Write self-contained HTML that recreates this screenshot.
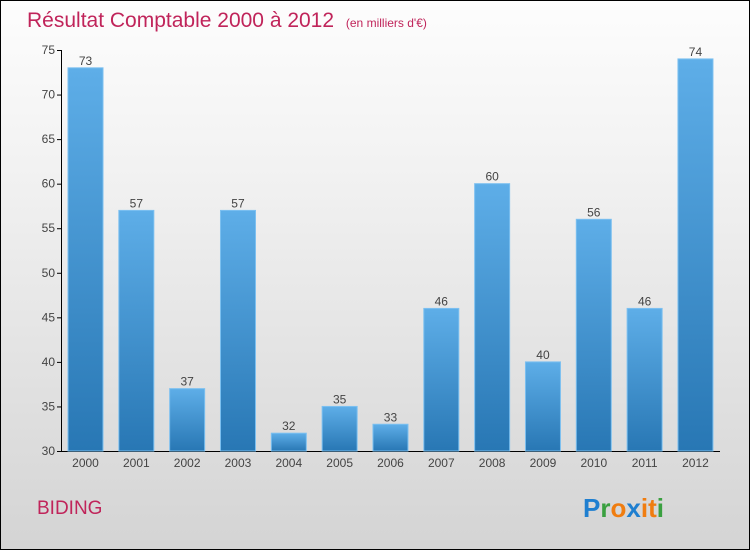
<!DOCTYPE html>
<html><head><meta charset="utf-8"><style>
body{margin:0}
#wrap{width:748px;height:548px;border:1px solid #000;background:linear-gradient(#fdfdfd,#f2f2f2 30%,#d4d4d4);position:relative;font-family:"Liberation Sans",sans-serif;overflow:hidden}
</style></head><body>
<div id="wrap">
<svg width="748" height="548">
<defs><linearGradient id="bg" x1="0" y1="0" x2="0" y2="1"><stop offset="0" stop-color="#5eaee8"/><stop offset="1" stop-color="#2877b4"/></linearGradient></defs>
<text x="26" y="26" font-size="21" fill="#c0245a">Résultat Comptable 2000 à 2012 <tspan font-size="12" dx="6">(en milliers d'€)</tspan></text>
<g id="axes"></g><g id="bars"></g>
<text x="36" y="513" font-size="19" fill="#c0245a">BIDING</text>
<g font-size="26" font-weight="bold" font-family="Liberation Sans, sans-serif">
<text x="582" y="516"><tspan fill="#1f7fd0">P</tspan><tspan fill="#3aa040">r</tspan><tspan fill="#f07d10">o</tspan><tspan fill="#1f7fd0">x</tspan><tspan fill="#f07d10">i</tspan><tspan fill="#f07d10">t</tspan><tspan fill="#3aa040">i</tspan></text></g>
</svg></div>
<script>
const years=["2000","2001","2002","2003","2004","2005","2006","2007","2008","2009","2010","2011","2012"];
const values=[73,57,37,57,32,35,33,46,60,40,56,46,74];
const ticks=[30,35,40,45,50,55,60,65,70,75];
const NS="http://www.w3.org/2000/svg";
const y=v=>450-(v-30)*(401/45);
const x=i=>67+i*50.83;
function mk(t,a,p){const e=document.createElementNS(NS,t);for(const k in a)e.setAttribute(k,a[k]);p.appendChild(e);return e;}
const ax=document.getElementById('axes'),bg=document.getElementById('bars');
let l=mk('line',{x1:60.5,y1:49,x2:60.5,y2:450.5,stroke:'#000'},ax);


l=mk('line',{x1:60,y1:450.5,x2:719,y2:450.5,stroke:'#000'},ax);


ticks.forEach(t=>{mk('line',{x1:56,x2:61,y1:y(t)+.5,y2:y(t)+.5,stroke:'#000'},ax);
const tx=mk('text',{x:54,y:y(t)+4,'font-size':12,fill:'#444','text-anchor':'end'},ax);tx.textContent=t;

});
values.forEach((v,i)=>{const r=mk('rect',{x:x(i),y:y(v),width:35,height:450-y(v),fill:'url(#bg)',stroke:'#7cc0f0','stroke-width':1},bg);


const lb=mk('text',{x:x(i)+17.5,y:y(v)-3,'font-size':12,fill:'#444','text-anchor':'middle'},bg);lb.textContent=v;


const yl=mk('text',{x:x(i)+17.5,y:466,'font-size':12,fill:'#444','text-anchor':'middle'},bg);yl.textContent=years[i];

});
</script></body></html>
